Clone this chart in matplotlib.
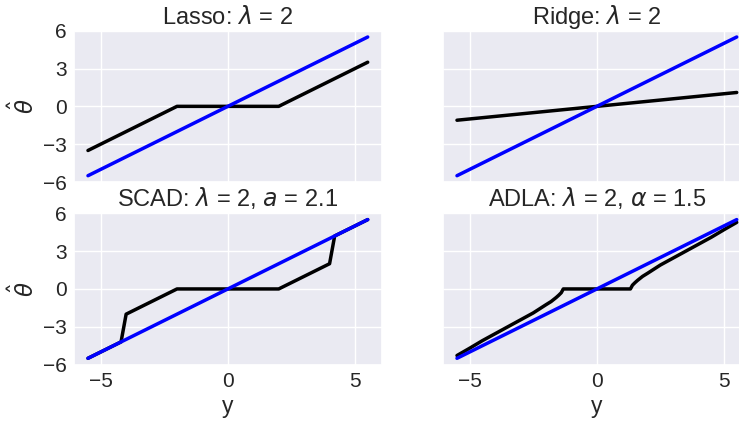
import matplotlib
matplotlib.use("Agg")
import matplotlib.pyplot as plt
import seaborn as sns

sns.set_theme(style="darkgrid")
plt.rcParams['font.family'] = ['Liberation Sans', 'DejaVu Sans']
plt.rcParams['mathtext.fontset'] = 'dejavusans'

# Data
identity_x = [-5.5, 5.5]
identity_y = [-5.5, 5.5]

lasso_x = [-5.5, -2.0, 2.0, 5.5]
lasso_y = [-3.5, 0.0, 0.0, 3.5]

ridge_x = [-5.5, 5.5]
ridge_y = [-1.1, 1.1]

scad_x = [-5.5, -4.2, -4.0, -2.0, 2.0, 4.0, 4.2, 5.5]
scad_y = [-5.5, -4.2, -2.0, 0.0, 0.0, 2.0, 4.2, 5.5]

adla_pos_x = [1.32, 1.4, 1.5, 1.6, 1.8, 2.0, 2.5, 3.0, 3.5, 4.0, 4.5, 5.0, 5.5]
adla_pos_y = [0.0, 0.3, 0.5, 0.68, 1.0, 1.25, 1.9, 2.45, 3.0, 3.55, 4.1, 4.7, 5.28]
adla_x = [-v for v in adla_pos_x[::-1]] + adla_pos_x
adla_y = [-v for v in adla_pos_y[::-1]] + adla_pos_y

titles = [r"Lasso: $\lambda$ = 2", r"Ridge: $\lambda$ = 2",
          r"SCAD: $\lambda$ = 2, $a$ = 2.1", r"ADLA: $\lambda$ = 2, $\alpha$ = 1.5"]
xticks = [-5, 0, 5]
yticks = [-6, -3, 0, 3, 6]
ytick_labels = ["\u22126", "\u22123", "0", "3", "6"]
xtick_labels = ["\u22125", "0", "5"]

W, H = 739, 422
fig = plt.figure(figsize=(W / 100, H / 100), dpi=100)

def px_rect(x0, y0, x1, y1):
    return [x0 / W, 1 - y1 / H, (x1 - x0) / W, (y1 - y0) / H]

rects = [px_rect(74, 30.7, 381.7, 182), px_rect(443, 30.7, 750.7, 182),
         px_rect(74, 213.3, 381.7, 364.6), px_rect(443, 213.3, 750.7, 364.6)]
series = [(lasso_x, lasso_y), (ridge_x, ridge_y), (scad_x, scad_y), (adla_x, adla_y)]

lw = 2.5
for i, (rect, (sx, sy), title) in enumerate(zip(rects, series, titles)):
    ax = fig.add_axes(rect)
    ax.plot(sx, sy, color="black", lw=lw)
    ax.plot(identity_x, identity_y, color="blue", lw=lw)
    ax.set_ylim(-6, 6)
    ax.set_xlim(-6.05, 6.05)
    ax.set_yticks(yticks)
    ax.set_xticks(xticks)
    ax.set_title(title, fontsize=17, pad=5)
    ax.tick_params(labelsize=15, length=0, pad=5)
    if i % 2 == 0:
        ax.set_yticklabels(ytick_labels)
        ax.set_ylabel(r"$\hat{\theta}$", fontsize=16.5, labelpad=3)
    else:
        ax.set_yticklabels([])
    if i >= 2:
        ax.set_xticklabels(xtick_labels)
        ax.set_xlabel("y", fontsize=16.5, labelpad=3)
    else:
        ax.set_xticklabels([])

fig.savefig("out.png", dpi=100)
